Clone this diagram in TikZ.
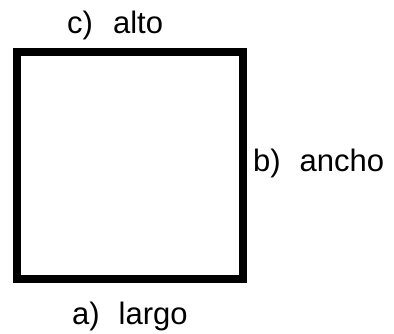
\documentclass[tikz,border=0pt]{standalone}
\usepackage{fontspec}
\setmainfont{Liberation Sans}
\usepackage{tikz}

\begin{document}
\begin{tikzpicture}[
    x=1pt, y=1pt,
    caja/.style={draw, line width=8pt, inner sep=0pt, minimum width=226pt, minimum height=227pt},
    etiqueta/.style={anchor=base west, inner sep=0pt, font=\fontsize{31}{35}\selectfont},
  ]
  \useasboundingbox (0,0) rectangle (394,334);
  \node[caja] (cuadro) at (130,168) {};          % el cuadrado
  \node[etiqueta] (alto)  at (67,300) {c)\hspace{20pt}alto};
  \node[etiqueta] (ancho) at (253,162) {b)\hspace{19pt}ancho};
  \node[etiqueta] (largo) at (72,9)   {a)\hspace{19pt}largo};
\end{tikzpicture}
\end{document}
